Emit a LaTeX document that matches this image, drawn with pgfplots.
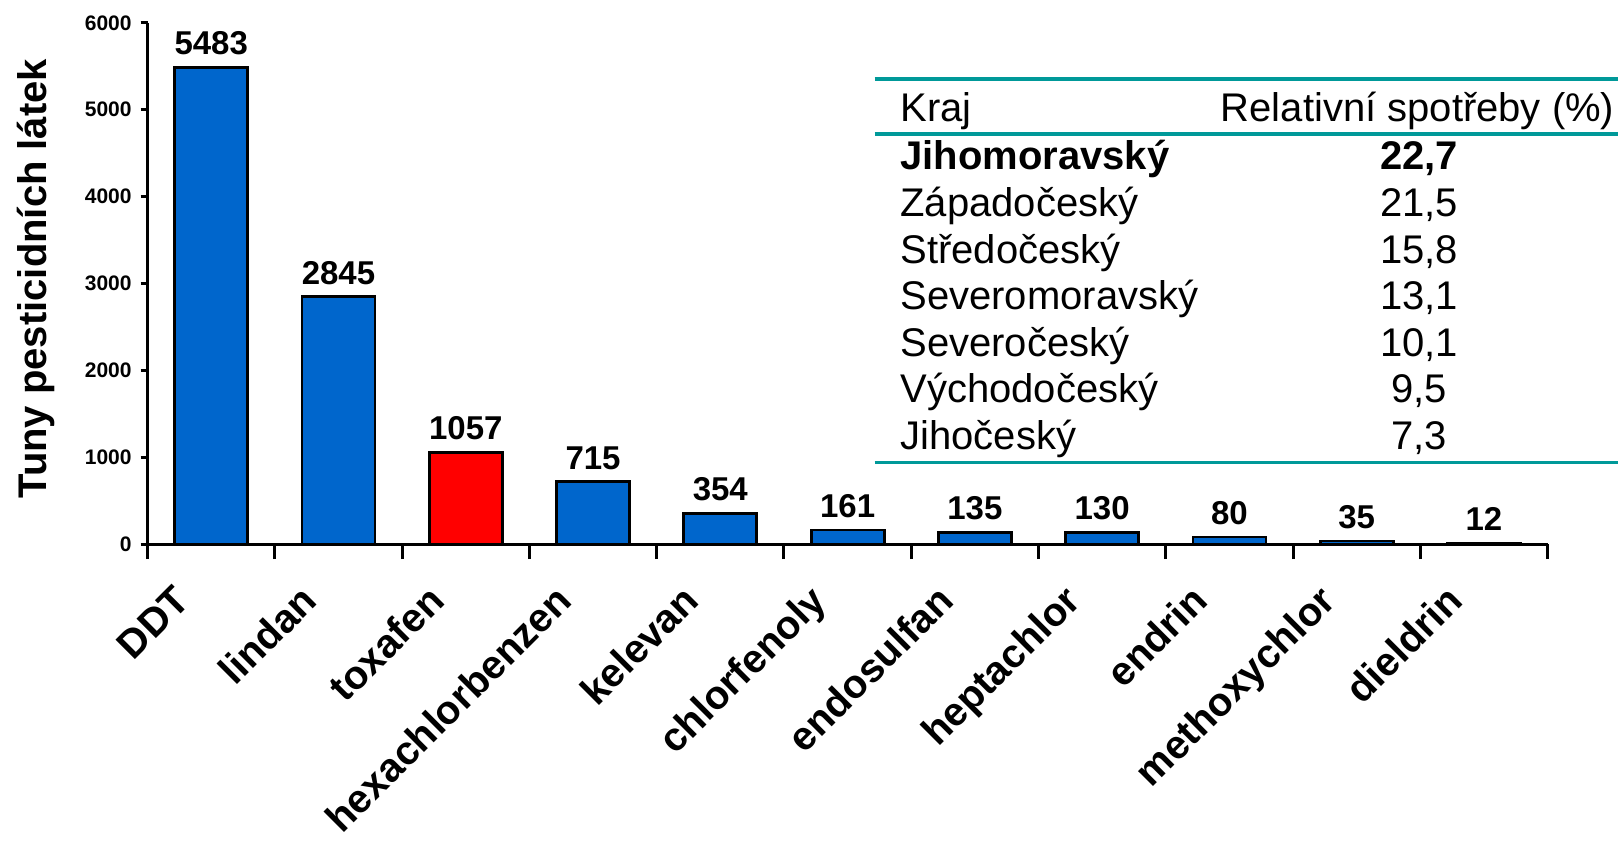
\documentclass[border=0pt]{standalone}
\usepackage{fontspec}
\setmainfont{Liberation Sans}
\usepackage{pgfplots}
\pgfplotsset{compat=1.18}
\definecolor{barblue}{RGB}{0,102,204}
\definecolor{barred}{RGB}{255,0,0}
\definecolor{tealline}{RGB}{0,153,153}
\begin{document}
\begin{tikzpicture}
\path[use as bounding box] (-73.8pt,-148.5pt) rectangle (735.2pt,272pt);
\begin{axis}[
  at={(0pt,0pt)}, anchor=south west,
  scale only axis, width=700pt, height=260.6pt,
  xmin=-0.5, xmax=10.5, ymin=0, ymax=6000,
  clip=false,
  axis x line*=bottom, axis y line*=left,
  axis line style={line width=1.5pt, black},
  ybar, bar width=36.5pt,
  ytick={0,1000,2000,3000,4000,5000,6000},
  xtick={-0.15,0.85,1.85,2.85,3.85,4.85,5.85,6.85,7.85,8.85,9.85},
  xticklabels={DDT,lindan,toxafen,hexachlorbenzen,kelevan,chlorfenoly,endosulfan,heptachlor,endrin,methoxychlor,dieldrin},
  minor xtick={-0.5,0.5,1.5,2.5,3.5,4.5,5.5,6.5,7.5,8.5,9.5,10.5},
  tick align=outside,
  major tick length=3.5pt,
  minor tick length=7.5pt,
  major x tick style={draw=none},
  minor x tick style={draw=black, line width=1.5pt},
  y tick style={draw=black, line width=1.5pt},
  /pgf/number format/assume math mode=true,
  /pgf/number format/set thousands separator={},
  yticklabel style={font=\fontsize{10.5}{12}\selectfont\bfseries, inner sep=0pt, xshift=-4.3pt},
  xticklabel style={font=\fontsize{20}{24}\selectfont\bfseries, rotate=45, anchor=base east, inner sep=0pt},
  xticklabel shift=26pt,
  ylabel={Tuny pesticidních látek},
  every axis y label/.style={at={(axis description cs:-0.0797,0.509)}, rotate=90, anchor=center, font=\fontsize{20}{24}\selectfont\bfseries},
  nodes near coords,
  every node near coord/.append style={font=\fontsize{16.5}{20}\selectfont\bfseries, inner sep=0pt, yshift=5.5pt, black},
]
\addplot[bar shift=0pt, fill=barblue, draw=black, line width=1.4pt]
  coordinates {(0,5483) (1,2845) (3,715) (4,354) (5,161) (6,135) (7,130) (8,80) (9,35) (10,12)};
\addplot[bar shift=0pt, fill=barred, draw=black, line width=1.4pt]
  coordinates {(2,1057)};
\end{axis}
% table
\draw[tealline, line width=1.6pt] (363.5pt,232.5pt) -- (735.2pt,232.5pt);
\draw[tealline, line width=1.6pt] (363.5pt,205pt) -- (735.2pt,205pt);
\draw[tealline, line width=1.6pt] (363.5pt,40.8pt) -- (735.2pt,40.8pt);
\begin{scope}[every node/.style={inner sep=0pt, font=\fontsize{20}{24}\selectfont}]
\node[anchor=base west] at (376.2pt,211.2pt) {Kraj};
\node[anchor=base] at (635pt,211.2pt) {Relativní spotřeby (\%)};
\node[anchor=base west, font=\fontsize{20}{24}\selectfont\bfseries] at (376.2pt,187pt) {Jihomoravský};
\node[anchor=base, font=\fontsize{20}{24}\selectfont\bfseries] at (635.7pt,187pt) {22,7};
\node[anchor=base west] at (376.2pt,163.7pt) {Západočeský};
\node[anchor=base] at (635.7pt,163.7pt) {21,5};
\node[anchor=base west] at (376.2pt,140.4pt) {Středočeský};
\node[anchor=base] at (635.7pt,140.4pt) {15,8};
\node[anchor=base west] at (376.2pt,117.1pt) {Severomoravský};
\node[anchor=base] at (635.7pt,117.1pt) {13,1};
\node[anchor=base west] at (376.2pt,93.8pt) {Severočeský};
\node[anchor=base] at (635.7pt,93.8pt) {10,1};
\node[anchor=base west] at (376.2pt,70.5pt) {Východočeský};
\node[anchor=base] at (635.7pt,70.5pt) {9,5};
\node[anchor=base west] at (376.2pt,47.2pt) {Jihočeský};
\node[anchor=base] at (635.7pt,47.2pt) {7,3};
\end{scope}
\end{tikzpicture}
\end{document}
